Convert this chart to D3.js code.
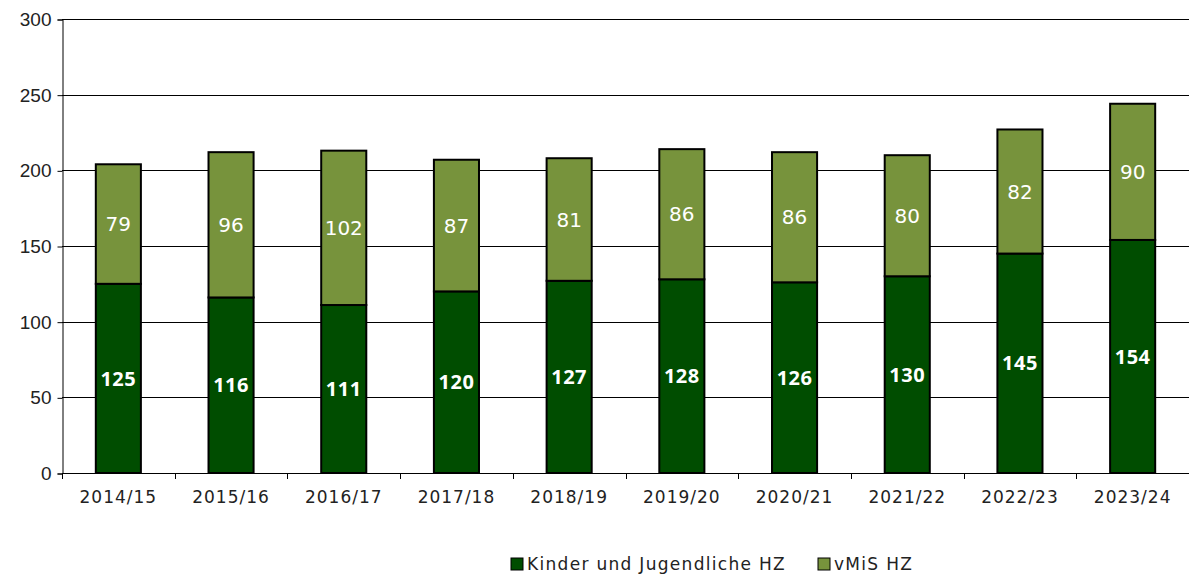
<!DOCTYPE html>
<html>
<head>
<meta charset="utf-8">
<script src="https://cdn.jsdelivr.net/npm/d3@7"></script>
<style>
  body { margin: 0; background: #fff; }
</style>
</head>
<body>
<div id="chart"></div>
<script>
const categories = ["2014/15", "2015/16", "2016/17", "2017/18", "2018/19", "2019/20", "2020/21", "2021/22", "2022/23", "2023/24"];
const kinder = [125, 116, 111, 120, 127, 128, 126, 130, 145, 154];
const vmis = [79, 96, 102, 87, 81, 86, 86, 80, 82, 90];
const yTicks = [0, 50, 100, 150, 200, 250, 300];
const seriesNames = ["Kinder und Jugendliche HZ", "vMiS HZ"];
const seriesColors = ["#004d00", "#77933c"];

const width = 1189;
const height = 577;
const marginTop = 19;
const marginRight = 0;
const marginBottom = 104;
const marginLeft = 62;

const svg = d3.select("#chart").append("svg")
  .attr("width", width)
  .attr("height", height);

const x = d3.scaleBand()
  .domain(categories)
  .range([marginLeft, width - marginRight])
  .paddingInner(0.6)
  .paddingOuter(0.3);

const y = d3.scaleLinear()
  .domain([0, 300])
  .range([height - marginBottom, marginTop]);

// grid lines
svg.append("g")
  .selectAll("line")
  .data(yTicks.filter(d => d > 0))
  .join("line")
  .attr("x1", marginLeft)
  .attr("x2", width - marginRight)
  .attr("y1", d => Math.round(y(d)) + 0.5)
  .attr("y2", d => Math.round(y(d)) + 0.5)
  .attr("stroke", "#000")
  .attr("stroke-width", 1);

// y axis
const yAxis = svg.append("g")
  .attr("transform", `translate(${marginLeft + 0.5},0.5)`)
  .call(d3.axisLeft(y).tickValues(yTicks).tickSize(5).tickPadding(6));
yAxis.selectAll("text")
  .attr("font-family", "Liberation Sans, Arial, sans-serif")
  .attr("font-size", 19)
  .attr("fill", "#222");
yAxis.select(".domain").attr("stroke", "#000");

// x axis: ticks at band boundaries
const step = x.step();
const outer = (width - marginRight - marginLeft - step * categories.length) / 2;
const xAxis = svg.append("g");
xAxis.append("line")
  .attr("x1", marginLeft)
  .attr("x2", width - marginRight)
  .attr("y1", Math.round(y(0)) + 0.5)
  .attr("y2", Math.round(y(0)) + 0.5)
  .attr("stroke", "#000");
xAxis.selectAll("line.tick")
  .data(d3.range(categories.length + 1))
  .join("line")
  .attr("class", "tick")
  .attr("x1", i => Math.round(marginLeft + outer + i * step) + 0.5)
  .attr("x2", i => Math.round(marginLeft + outer + i * step) + 0.5)
  .attr("y1", Math.round(y(0)))
  .attr("y2", Math.round(y(0)) + 6)
  .attr("stroke", "#000");
xAxis.selectAll("text")
  .data(categories)
  .join("text")
  .attr("x", d => x(d) + x.bandwidth() / 2)
  .attr("y", y(0) + 30)
  .attr("text-anchor", "middle")
  .attr("font-family", "DejaVu Sans, sans-serif")
  .attr("font-size", 17)
  .attr("letter-spacing", 1)
  .attr("fill", "#222")
  .text(d => d);

// stacked bars
const rows = categories.map((c, i) => ({ cat: c, kinder: kinder[i], vmis: vmis[i] }));
const stack = d3.stack().keys(["kinder", "vmis"])(rows);

const gBars = svg.append("g");
stack.forEach((layer, li) => {
  gBars.append("g")
    .attr("fill", seriesColors[li])
    .attr("stroke", "#000")
    .attr("stroke-width", 2)
    .selectAll("rect")
    .data(layer)
    .join("rect")
    .attr("x", d => x(d.data.cat))
    .attr("y", d => y(d[1]))
    .attr("width", x.bandwidth())
    .attr("height", d => y(d[0]) - y(d[1]));

  gBars.append("g")
    .selectAll("text")
    .data(layer)
    .join("text")
    .attr("x", d => x(d.data.cat) + x.bandwidth() / 2)
    .attr("y", d => y((d[0] + d[1]) / 2))
    .attr("dy", "0.36em")
    .attr("text-anchor", "middle")
    .attr("font-family", li === 0 ? "Noto Sans, sans-serif" : "DejaVu Sans, sans-serif")
    .attr("font-size", 20)
    .attr("font-weight", li === 0 ? "bold" : "normal")
    .attr("letter-spacing", li === 0 ? 0.5 : 0)
    .attr("fill", "#fff")
    .text(d => d[1] - d[0]);
});

// legend
const legendX = [511, 818];
const legend = svg.append("g");
seriesNames.forEach((name, i) => {
  legend.append("rect")
    .attr("x", legendX[i])
    .attr("y", 558)
    .attr("width", 12)
    .attr("height", 12)
    .attr("fill", seriesColors[i])
    .attr("stroke", "#000")
    .attr("stroke-width", 1);
  legend.append("text")
    .attr("x", legendX[i] + 16)
    .attr("y", 570)
    .attr("font-family", "DejaVu Sans, sans-serif")
    .attr("font-size", 17)
    .attr("letter-spacing", 1.3)
    .attr("fill", "#222")
    .text(name);
});
</script>
</body>
</html>
